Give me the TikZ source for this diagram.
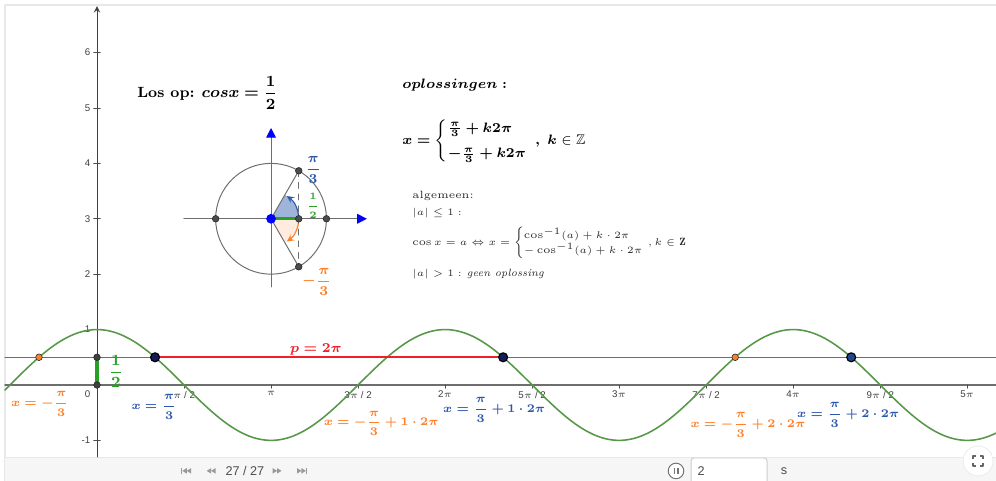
\documentclass[tikz,border=0pt]{standalone}
\usepackage{amsmath,amssymb,bm}
\usepackage{fontspec}
\newfontfamily\ggbsans{Liberation Sans}
\usetikzlibrary{arrows.meta,calc}
\definecolor{ggbgreen}{RGB}{86,152,72}
\definecolor{ggbbrightgreen}{RGB}{40,160,40}
\definecolor{ggbblue}{RGB}{44,88,172}
\definecolor{ggbnavy}{RGB}{18,28,88}
\definecolor{ggborange}{RGB}{255,128,40}
\definecolor{ggbred}{RGB}{240,32,40}
\definecolor{ggbgray}{RGB}{110,110,110}
\definecolor{ggbframe}{RGB}{232,232,232}
\definecolor{ggbbar}{RGB}{246,246,246}
\definecolor{ggbtext}{RGB}{40,40,40}

\begin{document}
\begin{tikzpicture}[line cap=round,line join=round,>=stealth,every node/.style={inner sep=1pt},
  ggbdot/.style={circle,fill=#1,draw=black!85,line width=0.3pt,inner sep=0pt,minimum size=3.4pt},
  bigdot/.style={circle,fill=#1,draw=black,line width=0.6pt,inner sep=0pt,minimum size=4.6pt},
  ticklbl/.style={font=\ggbsans\fontsize{5}{6}\selectfont,text=black!75},
  bigtext/.style={font=\fontsize{7.6}{9}\selectfont},
  soltext/.style={font=\fontsize{7.2}{8.6}\selectfont},
  graphtext/.style={font=\fontsize{5.7}{6.8}\selectfont},
  algtext/.style={font=\fontsize{5.4}{6.4}\selectfont,text=ggbtext},
  barlbl/.style={font=\ggbsans\fontsize{6.5}{7}\selectfont,text=black!70}]
  \def\xmax{16.227}
  \def\xmin{-1.661}
  \def\xa{1.047198}
  \useasboundingbox (-1.751,-1.733) rectangle (\xmax,6.949);
  \fill[white] (-1.751,-1.733) rectangle (\xmax,6.949);
  \draw[ggbframe,line width=1pt,line cap=butt] (\xmin,-1.733) -- (\xmin,6.859) -- (\xmax,6.859);
  \fill[ggbbar] (\xmin,-1.733) rectangle (\xmax,-1.30);
  \draw[ggbframe,line width=0.5pt] (\xmin,-1.30) -- (\xmax,-1.30);

  \draw[ggbgray,line width=0.7pt] (\xmin,0) -- (\xmax,0);
  \draw[->,black!75,line width=0.5pt] (0,-1.30) -- (0,6.84);
  \foreach \k/\lab in {1/{$\pi$ / 2},2/$\pi$,3/{3$\pi$ / 2},4/2$\pi$,5/{5$\pi$ / 2},6/3$\pi$,7/{7$\pi$ / 2},8/4$\pi$,9/{9$\pi$ / 2},10/5$\pi$}{
    \draw[black!70,line width=0.4pt] ({\k*pi/2},0) -- ({\k*pi/2},-0.06);
    \node[ticklbl,anchor=north] (xt\k) at ({\k*pi/2},-0.07) {\lab};
  }
  \foreach \j in {-1,1,2,3,4,5,6}{
    \draw[black!70,line width=0.4pt] (-0.06,\j) -- (0.06,\j);
    \node[ticklbl,anchor=east] (yt\j) at (-0.08,\j) {\j};
  }
  \node[ticklbl,anchor=north east] (yt0) at (-0.08,-0.07) {0};

  \draw[ggbgray,line width=0.7pt] (\xmin,0.5) -- (\xmax,0.5);
  \draw[ggbgreen,line width=0.8pt] plot[domain=\xmin:\xmax,samples=300,smooth] (\x,{cos(\x r)});

  \coordinate (A1) at (\xa,0.5);
  \coordinate (A2) at ({\xa+2*pi},0.5);
  \coordinate (A3) at ({\xa+4*pi},0.5);
  \coordinate (B1) at (-\xa,0.5);
  \coordinate (B3) at ({-\xa+4*pi},0.5);
  \draw[color=ggbred,line width=1pt] (A1) -- (A2);
  \node[text=ggbred,font=\fontsize{7}{8}\selectfont,anchor=south,inner sep=0.5pt] (period) at (3.95,0.52) {$\bm{p=2\pi}$};

  \coordinate (O) at (0,0);
  \coordinate (H) at (0,0.5);
  \draw[color=ggbbrightgreen,line width=1.6pt,line cap=butt] (O) -- (H);
  \node[text=ggbbrightgreen,bigtext] (half) at (0.34,0.24) {$\bm{\dfrac{1}{2}}$};
  \node[ggbdot=black!75] (Odot) at (O) {};
  \node[ggbdot=black!75] (Hdot) at (H) {};
  \node[ggbdot=ggborange] (B1dot) at (B1) {};
  \node[ggbdot=ggborange] (B3dot) at (B3) {};
  \node[bigdot=ggbnavy] (A1dot) at (A1) {};
  \node[bigdot=ggbnavy] (A2dot) at (A2) {};
  \node[bigdot=ggbblue!80!black] (A3dot) at (A3) {};

  \node[text=ggborange,graphtext] (s1) at (-1.03,-0.34) {$\bm{x=-\dfrac{\pi}{3}}$};
  \node[text=ggbblue,graphtext] (s2) at (1.03,-0.40) {$\bm{x=\dfrac{\pi}{3}}$};
  \node[text=ggborange,graphtext] (s3) at (5.13,-0.69) {$\bm{x=-\dfrac{\pi}{3}+1\cdot2\pi}$};
  \node[text=ggbblue,graphtext] (s4) at (7.17,-0.45) {$\bm{x=\dfrac{\pi}{3}+1\cdot2\pi}$};
  \node[text=ggborange,graphtext] (s5) at (11.75,-0.72) {$\bm{x=-\dfrac{\pi}{3}+2\cdot2\pi}$};
  \node[text=ggbblue,graphtext] (s6) at (13.56,-0.54) {$\bm{x=\dfrac{\pi}{3}+2\cdot2\pi}$};

  \coordinate (C) at ({pi},3);
  \coordinate (P1) at ($(C)+(60:1)$);
  \coordinate (P2) at ($(C)+(-60:1)$);
  \coordinate (Q) at ($(C)+(0.5,0)$);
  \coordinate (E1) at ($(C)+(1,0)$);
  \coordinate (E2) at ($(C)+(-1,0)$);
  \fill[ggbblue!45] (C) -- (Q) arc[start angle=0,end angle=60,radius=0.5] -- cycle;
  \fill[ggborange!15] (C) -- (Q) arc[start angle=0,end angle=-60,radius=0.5] -- cycle;
  \draw[ggbgray,line width=0.5pt] (C) circle[radius=1];
  \draw[ggbgray,line width=0.5pt,-{Triangle[length=5pt,width=5pt,color=blue,fill=blue]}] ($(C)+(-1.572,0)$) -- ($(C)+(1.73,0)$);
  \draw[ggbgray,line width=0.5pt,-{Triangle[length=5pt,width=5pt,color=blue,fill=blue]}] ($(C)+(0,-1.231)$) -- ($(C)+(0,1.64)$);
  \draw[ggbblue,line width=0.6pt,->] (Q) arc[start angle=0,end angle=55,radius=0.5];
  \draw[ggborange,line width=0.6pt,->] (Q) arc[start angle=0,end angle=-55,radius=0.5];
  \draw[ggbgray,line width=0.5pt] (P1) -- (C) -- (P2);
  \draw[ggbgray,line width=0.5pt,dashed] (P1) -- (P2);
  \draw[color=ggbbrightgreen,line width=1.4pt,line cap=butt] (C) -- (Q);
  \foreach \p in {P1,P2,Q,E1,E2}
    \node[ggbdot=black!70] (\p dot) at (\p) {};
  \node[circle,fill=blue,inner sep=0pt,minimum size=5pt] (Cdot) at (C) {};
  \node[text=ggbblue,soltext] (lp) at (3.90,3.88) {$\bm{\dfrac{\pi}{3}}$};
  \node[text=ggbbrightgreen,font=\fontsize{5.5}{6}\selectfont] (lh) at (3.90,3.23) {$\bm{\dfrac{1}{2}}$};
  \node[text=ggborange,soltext] (lm) at (3.97,1.86) {$\bm{-\dfrac{\pi}{3}}$};

  \node[bigtext,anchor=west] (title) at (0.686,5.27) {\textbf{Los op:} $\bm{cos x=\dfrac{1}{2}}$};
  \node[soltext,anchor=west] (opl) at (5.469,5.415) {$\bm{oplossingen:}$};
  \node[soltext,anchor=west] (cases1) at (5.469,4.404) {$\bm{x}\bm{=}\begin{cases}\bm{\frac{\pi}{3}+k2\pi}\\[3pt] \bm{-\frac{\pi}{3}+k2\pi}\end{cases}\kern-5pt\bm{,}\;\bm{k}\in\mathbb{Z}$};
  \node[algtext,anchor=west] (alg) at (5.65,3.41) {algemeen:};
  \node[algtext,anchor=west] (abs1) at (5.65,3.105) {$|a|\le1:$};
  \node[algtext,anchor=west] (cases2) at (5.65,2.563) {$\cos x=a\Leftrightarrow x=\begin{cases}\cos^{-1}(a)+k\cdot2\pi\\-\cos^{-1}(a)+k\cdot2\pi\end{cases}\kern-5pt,k\in\mathbf{Z}$};
  \node[algtext,anchor=west] (abs2) at (5.65,2.004) {$|a|>1:$\ \textit{geen oplossing}};

  \begin{scope}[fill=black!40]
    \fill (1.52,-1.60) rectangle (1.54,-1.50);
    \fill (1.54,-1.55) -- (1.62,-1.50) -- (1.62,-1.60) -- cycle;
    \fill (1.62,-1.55) -- (1.70,-1.50) -- (1.70,-1.60) -- cycle;
    \fill (1.98,-1.55) -- (2.06,-1.50) -- (2.06,-1.60) -- cycle;
    \fill (2.06,-1.55) -- (2.14,-1.50) -- (2.14,-1.60) -- cycle;
    \fill (3.33,-1.55) -- (3.25,-1.50) -- (3.25,-1.60) -- cycle;
    \fill (3.25,-1.55) -- (3.17,-1.50) -- (3.17,-1.60) -- cycle;
    \fill (3.61,-1.50) -- (3.69,-1.55) -- (3.61,-1.60) -- cycle;
    \fill (3.69,-1.50) -- (3.77,-1.55) -- (3.69,-1.60) -- cycle;
    \fill (3.77,-1.60) rectangle (3.79,-1.50);
  \end{scope}
  \node[barlbl] (frame) at (2.67,-1.545) {27 / 27};
  \node[circle,draw=black!55,line width=0.5pt,fill=white,minimum size=8pt,inner sep=0pt] (pause) at (10.451,-1.552) {};
  \fill[black!55] ($(pause)+(-0.045,-0.055)$) rectangle ($(pause)+(-0.015,0.055)$);
  \fill[black!55] ($(pause)+(0.015,-0.055)$) rectangle ($(pause)+(0.045,0.055)$);
  \draw[black!20,fill=white,rounded corners=1.5pt,line width=0.5pt] (10.722,-1.80) rectangle (12.094,-1.318);
  \node[barlbl,anchor=west] (speed) at (10.80,-1.552) {2};
  \node[barlbl] (unit) at (12.40,-1.552) {s};
  \node[circle,fill=white,draw=black!8,minimum size=0.54cm,inner sep=0pt] (full) at (15.903,-1.372) {};
  \begin{scope}[black!60,line width=0.6pt,line cap=butt]
    \draw ($(full)+(-0.09,0.04)$) -- ($(full)+(-0.09,0.09)$) -- ($(full)+(-0.04,0.09)$);
    \draw ($(full)+(0.04,0.09)$) -- ($(full)+(0.09,0.09)$) -- ($(full)+(0.09,0.04)$);
    \draw ($(full)+(0.09,-0.04)$) -- ($(full)+(0.09,-0.09)$) -- ($(full)+(0.04,-0.09)$);
    \draw ($(full)+(-0.04,-0.09)$) -- ($(full)+(-0.09,-0.09)$) -- ($(full)+(-0.09,-0.04)$);
  \end{scope}
\end{tikzpicture}
\end{document}
